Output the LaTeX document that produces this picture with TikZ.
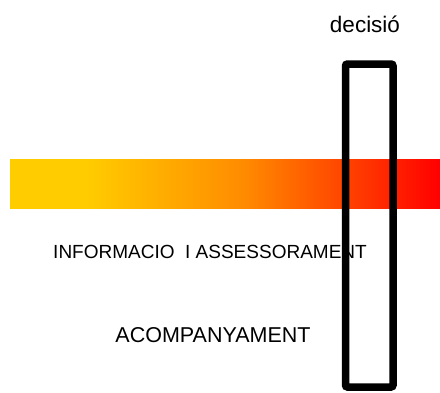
\documentclass[tikz,border=0pt]{standalone}
\usepackage{fontspec}
\setmainfont{Liberation Sans}
\definecolor{gold}{HTML}{FFCC00}
\definecolor{deeporange}{HTML}{FF8C00}
\pgfdeclarehorizontalshading{barshade}{100bp}{color(0bp)=(gold); color(34bp)=(gold); color(52bp)=(deeporange); color(75bp)=(red); color(100bp)=(red)}
\tikzset{
  label text/.style={anchor=base,inner sep=0pt,text=black},
}
\begin{document}
\begin{tikzpicture}[x=1pt,y=-1pt]
        \useasboundingbox (0,0) rectangle (440,392);
        \shade[shading=barshade](10,159) rectangle (440,208);

        \node[label text,font=\fontsize{22.5}{26}\selectfont] (decision) at (365,32) {decisió};
        \node[label text,font=\fontsize{19}{23}\selectfont] (info) at (210,258) {INFORMACIO \ I ASSESSORAMENT};
        \node[label text,font=\fontsize{21.5}{25}\selectfont] (acomp) at (213,342) {ACOMPANYAMENT};

        \draw[line width=7.5pt,rounded corners=2pt](345.5,64) rectangle (393,387);
    \end{tikzpicture}
\end{document}
